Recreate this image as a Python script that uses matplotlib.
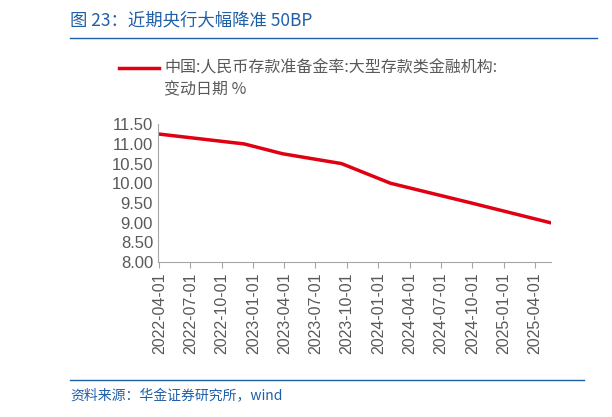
import matplotlib
matplotlib.use("Agg")
import matplotlib.pyplot as plt
import pandas as pd

plt.rcParams['font.family'] = ['Noto Sans CJK SC', 'DejaVu Sans']

dates = pd.to_datetime(["2022-04-01", "2022-12-05", "2023-03-27", "2023-09-15",
                        "2024-02-05", "2024-09-27", "2025-05-15"])
values = [11.25, 11.00, 10.75, 10.50, 10.00, 9.50, 9.00]
ticks = pd.date_range("2022-04-01", "2025-04-01", freq="3MS")
tick_labels = [d.strftime("%Y-%m-%d") for d in ticks]

fig = plt.figure(figsize=(6.12, 4.17), dpi=100)
ax = fig.add_axes([0.258, 0.372, 0.642, 0.33])
ax.plot(dates, values, color="#E00012", lw=2.5)
ax.set_ylim(8, 11.5)
ax.set_yticks([8 + 0.5 * i for i in range(8)])
ax.set_yticklabels([f"{8 + 0.5 * i:.2f}" for i in range(8)], fontsize=12, color="#595959",
                   family="Liberation Sans")
ax.set_xlim(pd.Timestamp("2022-03-28"), pd.Timestamp("2025-05-18"))
ax.set_xticks(ticks)
ax.set_xticklabels(tick_labels, rotation=90, fontsize=11.5, color="#595959", family="Liberation Sans")
for s in ["top", "right"]:
    ax.spines[s].set_visible(False)
for s in ["left", "bottom"]:
    ax.spines[s].set_color("#A6A6A6")
ax.tick_params(axis="y", length=0)
ax.tick_params(axis="x", color="#A6A6A6", length=4)

fig.text(0.115, 0.95, "图 23：近期央行大幅降准 50BP", fontsize=12.5, color="#1F5FA8", va="center")
fig.add_artist(plt.Line2D([0.115, 0.975], [0.91, 0.91], color="#1F5FA8", lw=1))
fig.add_artist(plt.Line2D([0.195, 0.26], [0.838, 0.838], color="#E00012", lw=2.5))
fig.text(0.268, 0.838, "中国:人民币存款准备金率:大型存款类金融机构:", fontsize=11.5, color="#595959", va="center")
fig.text(0.268, 0.785, "变动日期 %", fontsize=11.5, color="#595959", va="center")
fig.add_artist(plt.Line2D([0.115, 0.955], [0.088, 0.088], color="#1F5FA8", lw=1))
fig.text(0.115, 0.05, "资料来源：华金证券研究所，wind", fontsize=10, color="#1F5FA8",
         style="italic", va="center")
fig.savefig("out.png", dpi=100)
